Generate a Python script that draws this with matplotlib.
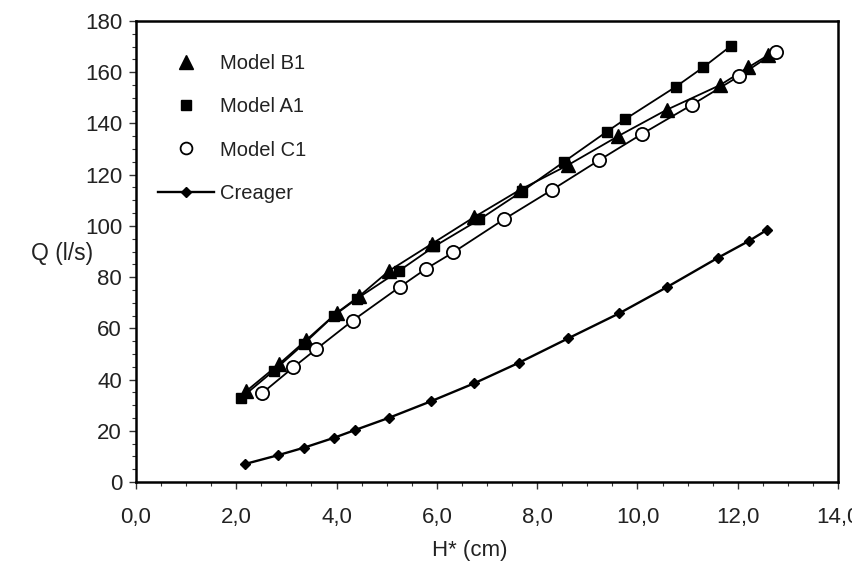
import numpy as np
import matplotlib
matplotlib.use("Agg")
import matplotlib.pyplot as plt
from matplotlib.lines import Line2D
from matplotlib.ticker import MultipleLocator, FuncFormatter

plt.rcParams['font.family'] = ['Liberation Sans', 'DejaVu Sans']

# data
h_b1 = [2.20, 2.85, 3.40, 4.00, 4.45, 5.05, 5.90, 6.75, 7.65, 8.62, 9.62, 10.58, 11.65, 12.21, 12.61]
q_b1 = [35.5, 46.0, 55.5, 66.0, 72.5, 82.5, 93.0, 103.5, 114.0, 123.8, 135.1, 145.3, 155.0, 161.9, 166.7]

h_a1 = [2.09, 2.75, 3.35, 3.95, 4.40, 5.25, 5.95, 6.85, 7.70, 8.54, 9.39, 9.75, 10.77, 11.31, 11.86]
q_a1 = [32.7, 43.5, 54.0, 65.0, 71.5, 82.5, 92.0, 102.5, 113.5, 125.1, 136.8, 141.6, 154.4, 161.9, 170.2]

h_c1 = [2.51, 3.14, 3.59, 4.32, 5.27, 5.78, 6.33, 7.34, 8.29, 9.24, 10.09, 11.08, 12.03, 12.76]
q_c1 = [34.6, 44.8, 51.8, 63.0, 76.3, 83.2, 89.7, 102.6, 114.0, 125.7, 135.9, 147.2, 158.5, 168.0]

h_cr = [2.17, 2.84, 3.35, 3.94, 4.37, 5.05, 5.88, 6.74, 7.64, 8.62, 9.64, 10.58, 11.61, 12.23, 12.58]
q_cr = [7.0, 10.5, 13.4, 17.2, 20.3, 25.1, 31.5, 38.5, 46.6, 56.1, 65.9, 76.0, 87.6, 94.2, 98.4]

fig = plt.figure(figsize=(8.52, 5.68), dpi=100)
ax = fig.add_axes([0.1596, 0.1514, 0.824, 0.8116])

lw = 1.3
ax.plot(h_b1, q_b1, color='black', lw=lw, marker='^', ms=9.5, zorder=3)
ax.plot(h_a1, q_a1, color='black', lw=lw, marker='s', ms=7.5, zorder=3)
ax.plot(h_c1, q_c1, color='black', lw=lw, marker='o', ms=9.5, mfc='white', mew=1.3, zorder=3)
ax.plot(h_cr, q_cr, color='black', lw=1.7, marker='D', ms=5.5, zorder=3)

ax.set_xlim(0, 14)
ax.set_ylim(0, 180)
ax.xaxis.set_major_locator(MultipleLocator(2))
ax.xaxis.set_minor_locator(MultipleLocator(0.5))
ax.yaxis.set_major_locator(MultipleLocator(20))
ax.yaxis.set_minor_locator(MultipleLocator(5))
ax.xaxis.set_major_formatter(FuncFormatter(lambda v, p: f"{v:.1f}".replace('.', ',')))
ax.tick_params(which='both', direction='out', labelsize=16, color='#333333', labelcolor='#222222')
ax.tick_params(which='major', length=5, width=1)
ax.tick_params(which='minor', length=3, width=0.8)
ax.tick_params(axis='x', pad=13)
ax.tick_params(axis='y', pad=5)
for s in ax.spines.values():
    s.set_linewidth(1.8)

ax.set_xlabel("H* (cm)", fontsize=16, color='#222222')
ax.xaxis.set_label_coords(0.476, -0.126)
ax.set_ylabel("Q (l/s)", fontsize=16.5, rotation=0, va='center', ha='center', color='#222222')
ax.yaxis.set_label_coords(-0.105, 0.495)

handles = [
    Line2D([], [], color='black', marker='^', ms=9.5, ls='none'),
    Line2D([], [], color='black', marker='s', ms=7.5, ls='none'),
    Line2D([], [], color='black', marker='o', ms=8.5, mfc='white', mew=1.3, ls='none'),
    Line2D([], [], color='black', marker='D', ms=5.5, lw=1.7),
]
ax.legend(handles, ["Model B1", "Model A1", "Model C1", "Creager"],
          loc='upper left', bbox_to_anchor=(0.031, 0.928), frameon=False,
          fontsize=14.5, borderaxespad=0, borderpad=0, labelspacing=1.2,
          handlelength=2.8, handletextpad=0.3, labelcolor='#222222')

fig.savefig("out.png", dpi=100)
